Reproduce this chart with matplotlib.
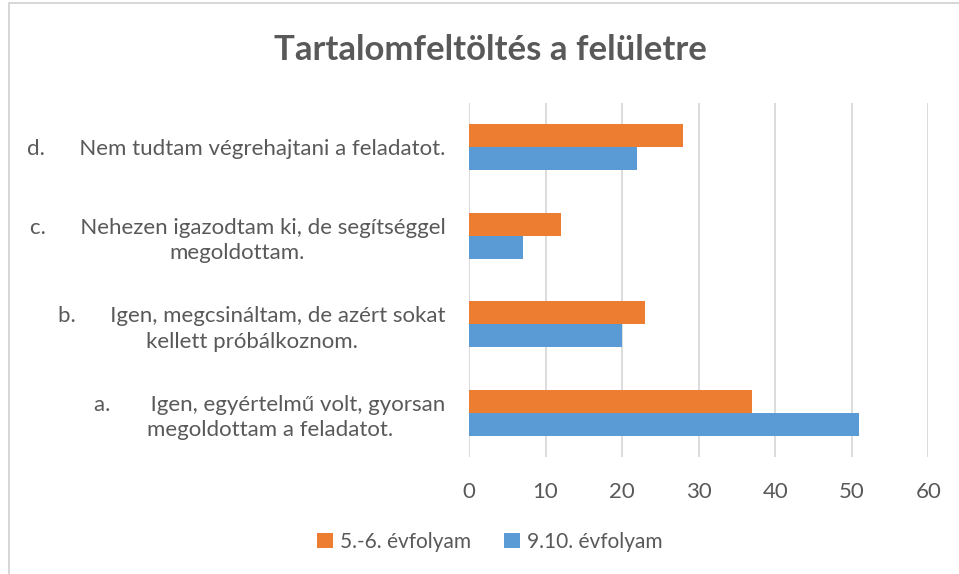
import matplotlib
matplotlib.use("Agg")
import matplotlib.pyplot as plt
import numpy as np
from matplotlib.patches import Rectangle

# answers, bottom to top as they appear on the chart
categories = [
    "a.       Igen, egyértelmű volt, gyorsan\nmegoldottam a feladatot.",
    "b.      Igen, megcsináltam, de azért sokat\nkellett próbálkoznom.",
    "c.      Nehezen igazodtam ki, de segítséggel\nmegoldottam.",
    "d.      Nem tudtam végrehajtani a feladatot.",
]
grade_5_6 = [37, 23, 12, 28]
grade_9_10 = [51, 20, 7, 22]
series_names = ["5.-6. évfolyam", "9.10. évfolyam"]
x_ticks = [0, 10, 20, 30, 40, 50, 60]

orange = "#ED7D31"
blue = "#5B9BD5"
text_gray = "#595959"

plt.rcParams["font.family"] = ["Lato", "DejaVu Sans"]

fig = plt.figure(figsize=(9.59, 5.74), dpi=100)
ax = fig.add_axes([0.489, 0.204, 0.479, 0.617])

y = np.arange(len(categories))
h = 0.26
ax.barh(y + h / 2, grade_5_6, height=h, color=orange, label=series_names[0], zorder=3)
ax.barh(y - h / 2, grade_9_10, height=h, color=blue, label=series_names[1], zorder=3)

ax.set_xlim(0, 60)
ax.set_ylim(-0.5, len(categories) - 0.5)
ax.set_xticks(x_ticks)
ax.set_yticks(y)
ax.set_yticklabels(categories, multialignment="center", linespacing=1.35)

ax.grid(axis="x", color="#D9D9D9", linewidth=1.3, zorder=0)
for s in ax.spines.values():
    s.set_visible(False)
ax.tick_params(axis="both", length=0, labelsize=16, colors=text_gray)
ax.tick_params(axis="x", pad=18)
ax.tick_params(axis="y", pad=17)

fig.text(0.511, 0.913, "Tartalomfeltöltés a felületre", ha="center", va="center",
         fontsize=25, fontweight="bold", color=text_gray)

leg = fig.legend(loc="center", bbox_to_anchor=(0.511, 0.056), ncol=2, frameon=False,
                 fontsize=15, handlelength=0.75, handleheight=0.75, handletextpad=0.35,
                 columnspacing=1.6)
for t in leg.get_texts():
    t.set_color(text_gray)

# chart border (partly cut off in the original screenshot)
fig.patches.append(Rectangle((0.0095, -0.1), 1.1, 1.095, transform=fig.transFigure,
                             fill=False, edgecolor="#D0D0D0", linewidth=1.2))

fig.savefig("out.png", dpi=100)
